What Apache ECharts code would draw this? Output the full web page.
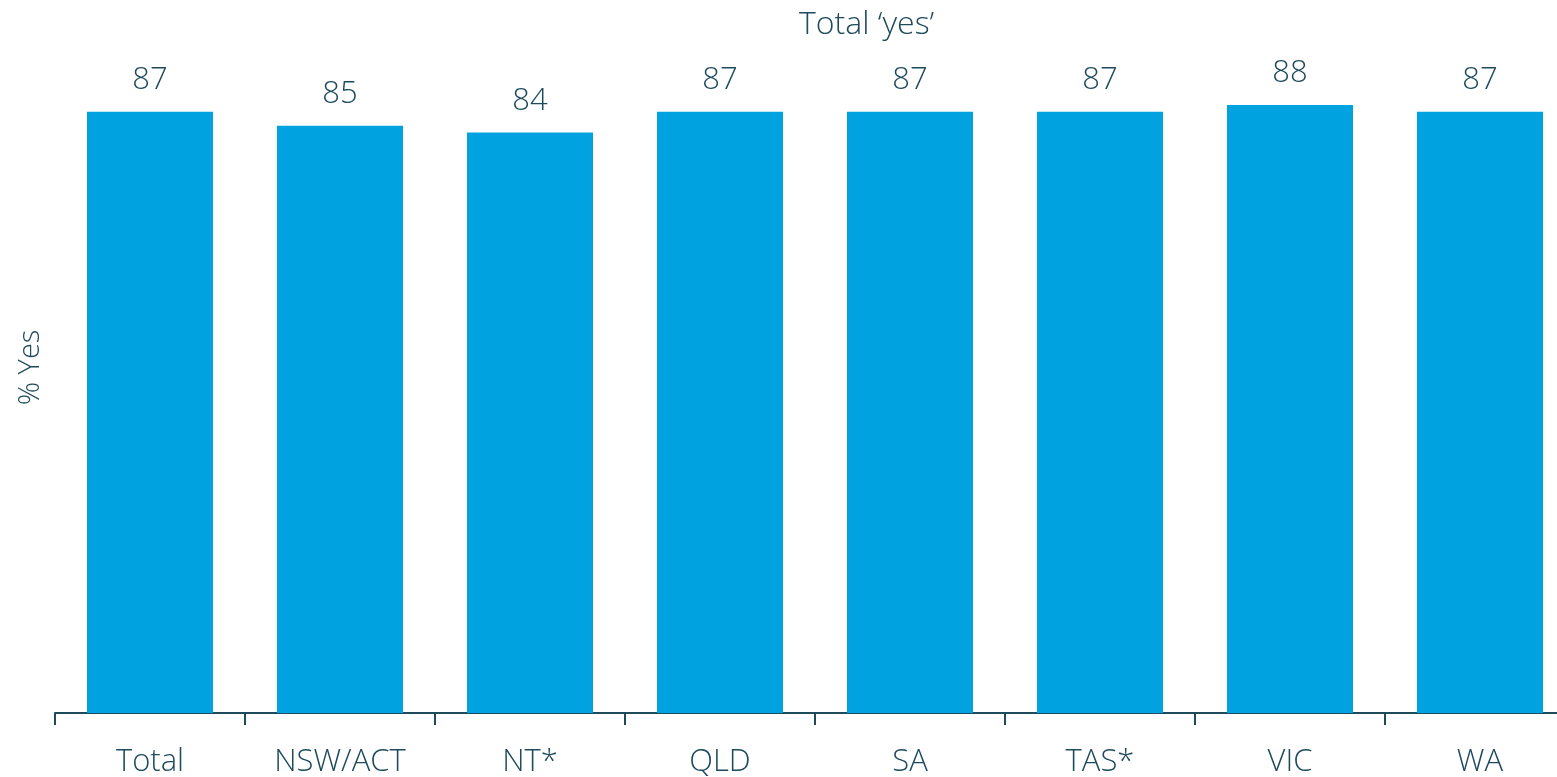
<!DOCTYPE html>
<html>
<head>
    <meta charset="utf-8">
    <script type="text/javascript" src="https://cdn.jsdelivr.net/npm/echarts@6/dist/echarts.min.js"></script>
    <style>
        html, body { margin: 0; padding: 0; background: #fff; }
    </style>
</head>
<body>

<div id="main" style="width: 1557px;height:777px;"></div>

<script type="text/javascript">

    // categories and values
    var states = ['Total', 'NSW/ACT', 'NT*', 'QLD', 'SA', 'TAS*', 'VIC', 'WA'];
    var yesPct = [87, 85, 84, 87, 87, 87, 88, 87];

    var textColor = '#1d4a5c';
    var font = '"Open Sans", sans-serif';

    var myChart = echarts.init(document.getElementById('main'));

    var option = {
        animation: false,
        title: {
            text: 'Total \u2018yes\u2019',
            left: 794,
            top: 4,
            textStyle: {
                color: textColor,
                fontFamily: font,
                fontWeight: 300,
                fontSize: 32
            }
        },
        grid: {
            left: 55,
            top: 22,
            width: 1520,
            bottom: 64,
            containLabel: false,
            outerBoundsMode: 'none'
        },
        xAxis: {
            type: 'category',
            data: states,
            axisLine: { lineStyle: { color: textColor, width: 2 } },
            axisTick: { show: true, length: 12, lineStyle: { color: textColor, width: 2 } },
            axisLabel: {
                color: textColor,
                fontFamily: font,
                fontWeight: 300,
                fontSize: 31,
                margin: 34
            }
        },
        yAxis: {
            type: 'value',
            min: 0,
            max: 100,
            name: '% Yes',
            nameLocation: 'middle',
            nameRotate: 90,
            nameGap: 10,
            nameTextStyle: {
                color: textColor,
                fontFamily: font,
                fontWeight: 300,
                fontSize: 29
            },
            axisLine: { show: false },
            axisTick: { show: false },
            axisLabel: { show: false },
            splitLine: { show: false }
        },
        series: [
            {
                name: 'Total yes',
                type: 'bar',
                data: yesPct,
                barWidth: 126,
                itemStyle: { color: '#00a3e0' },
                label: {
                    show: true,
                    position: 'top',
                    distance: 16,
                    color: textColor,
                    fontFamily: font,
                    fontWeight: 300,
                    fontSize: 31
                }
            }
        ]
    };

    myChart.setOption(option);
</script>

</body>
</html>
